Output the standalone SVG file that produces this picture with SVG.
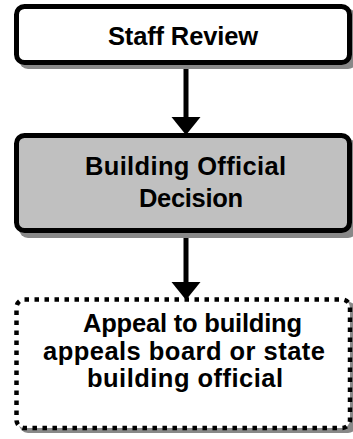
<svg xmlns="http://www.w3.org/2000/svg" width="353" height="439" viewBox="0 0 353 439">
<style>
.shadow{fill:#888888;stroke:none}
.box{stroke:#000;stroke-width:5}
.dotted{fill:#fff;stroke:#000;stroke-width:4.5;stroke-dasharray:4.5 5.5}
.lbl{font-family:"Liberation Sans",Arial,sans-serif;font-weight:bold;font-size:25.5px;fill:#000;text-anchor:middle}
.conn{stroke:#000;stroke-width:5;fill:none}
.head{fill:#000}
</style>
<rect width="353" height="439" fill="#fff"/>
<g id="connectors">
<line class="conn" x1="186" y1="66" x2="186" y2="120"/>
<polygon class="head" points="171.5,117 200.5,117 186,135"/>
<line class="conn" x1="186" y1="232" x2="186" y2="285"/>
<polygon class="head" points="171.5,282 200.5,282 186,300"/>
</g>
<g id="staff-review">
<rect class="shadow" x="19" y="9" width="338" height="60" rx="9"/>
<rect class="box" x="16.5" y="6.5" width="333" height="56" rx="8" fill="#fff"/>
<text class="lbl" x="183" y="45" textLength="150" lengthAdjust="spacing">Staff Review</text>
</g>
<g id="building-official-decision">
<rect class="shadow" x="19" y="139" width="338" height="99" rx="9"/>
<rect class="box" x="16.5" y="135.5" width="333" height="95" rx="8" fill="#c0c0c0"/>
<text class="lbl" x="185.5" y="175" textLength="201" lengthAdjust="spacing">Building Official</text>
<text class="lbl" x="191" y="207" textLength="104" lengthAdjust="spacing">Decision</text>
</g>
<g id="appeal">
<rect class="shadow" x="19" y="302" width="338" height="131" rx="9"/>
<rect class="dotted" x="16.5" y="299.5" width="333.5" height="128.5" rx="8"/>
<text class="lbl" x="192.5" y="332" textLength="219" lengthAdjust="spacing">Appeal to building</text>
<text class="lbl" x="184" y="359.5" textLength="282" lengthAdjust="spacing">appeals board or state</text>
<text class="lbl" x="185" y="387" textLength="196" lengthAdjust="spacing">building official</text>
</g>
</svg>
